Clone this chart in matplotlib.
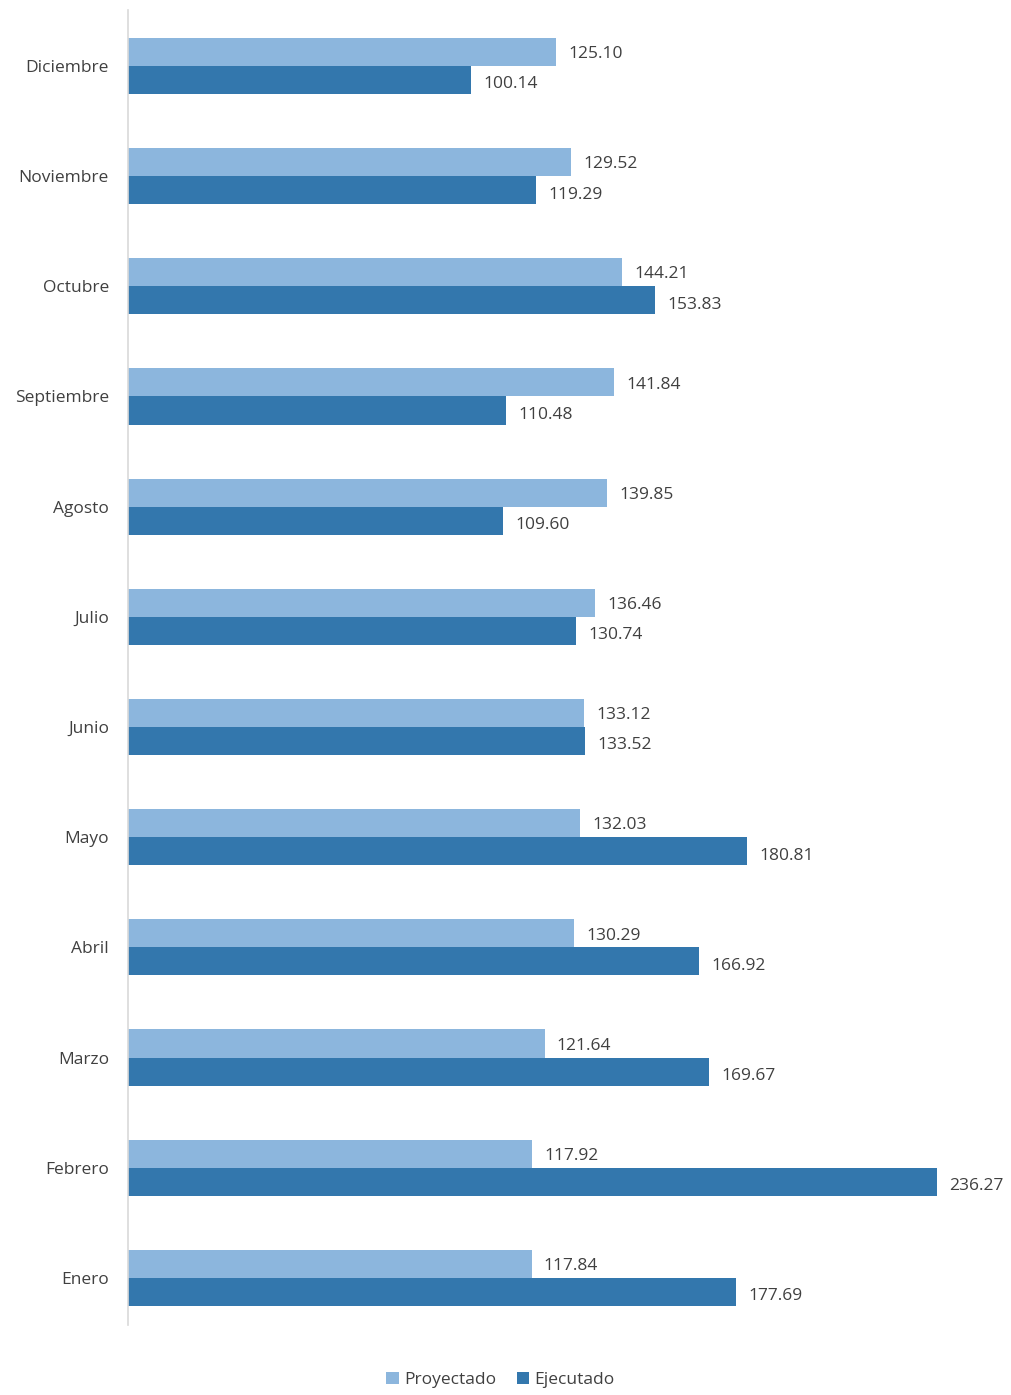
import numpy as np
import matplotlib.pyplot as plt

# monthly values, Enero first (drawn bottom to top)
meses = ["Enero", "Febrero", "Marzo", "Abril", "Mayo", "Junio", "Julio",
         "Agosto", "Septiembre", "Octubre", "Noviembre", "Diciembre"]
proyectado = [117.84, 117.92, 121.64, 130.29, 132.03, 133.12, 136.46,
              139.85, 141.84, 144.21, 129.52, 125.10]
ejecutado = [177.69, 236.27, 169.67, 166.92, 180.81, 133.52, 130.74,
             109.60, 110.48, 153.83, 119.29, 100.14]

c_proy = "#8cb6dd"
c_ejec = "#3377ad"
txt = "#404040"

plt.rcParams['font.family'] = ['Open Sans', 'DejaVu Sans']

fig = plt.figure(figsize=(10.11, 13.95), dpi=100)
ax = fig.add_axes([0.127, 0.05, 0.873, 0.943])

y = np.arange(len(meses))
h = 0.255
b1 = ax.barh(y + h / 2, proyectado, height=h, color=c_proy, label="Proyectado")
b2 = ax.barh(y - h / 2, ejecutado, height=h, color=c_ejec, label="Ejecutado")

for yi, v in zip(y, proyectado):
    ax.text(v + 3.6, yi + h / 2 - 0.02, f"{v:.2f}", va="center", ha="left",
            fontsize=12.5, color=txt)
for yi, v in zip(y, ejecutado):
    ax.text(v + 3.6, yi - h / 2 - 0.04, f"{v:.2f}", va="center", ha="left",
            fontsize=12.5, color=txt)

ax.set_xlim(0, 258)
ax.set_ylim(-0.43, 11.51)
ax.set_yticks(y)
ax.set_yticklabels(meses, fontsize=12.5, color=txt)
ax.tick_params(axis="y", length=0, pad=14)
ax.set_xticks([])
for s in ["top", "right", "bottom"]:
    ax.spines[s].set_visible(False)
ax.spines["left"].set_color("#d9d9d9")
ax.spines["left"].set_linewidth(1.2)

fig.legend(handles=[b1, b2], loc="center", bbox_to_anchor=(0.495, 0.011),
           ncol=2, frameon=False, fontsize=12.5, handlelength=0.7,
           handleheight=0.7, handletextpad=0.3, columnspacing=1.2,
           labelcolor=txt)

fig.savefig("out.png", dpi=100, facecolor="white")
